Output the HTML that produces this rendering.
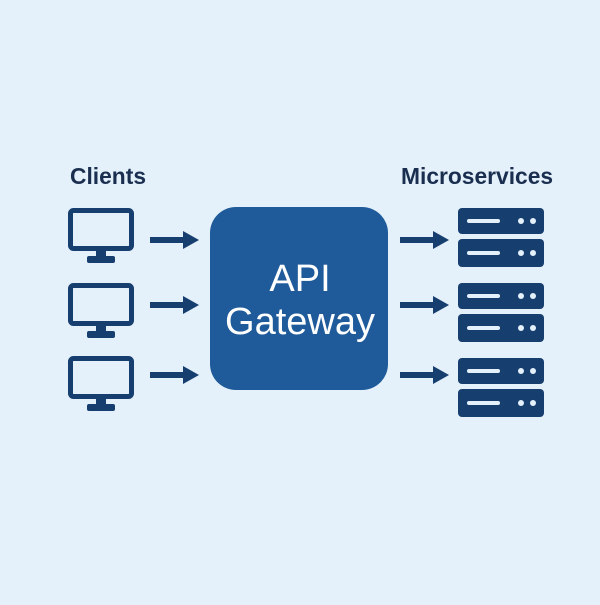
<!DOCTYPE html>
<html><head><style>
body{margin:0;background:#e4f1fb;}
</style></head><body>
<svg width="600" height="600" viewBox="0 0 600 600" xmlns="http://www.w3.org/2000/svg">
<rect width="600" height="600" fill="#e4f1fb"/>
<text x="70" y="184" font-family="Liberation Sans, sans-serif" font-size="22.8" font-weight="bold" fill="#1a2e4f">Clients</text>
<text x="401" y="184" font-family="Liberation Sans, sans-serif" font-size="22.8" font-weight="bold" fill="#1a2e4f">Microservices</text>
<rect x="210" y="207" width="178" height="183" rx="26" fill="#1f5b9a"/>
<text x="300" y="291" text-anchor="middle" font-family="Liberation Sans, sans-serif" font-size="38" fill="#fff">API</text>
<text x="300" y="334" text-anchor="middle" font-family="Liberation Sans, sans-serif" font-size="38" fill="#fff">Gateway</text>
<g fill="#163e6e">
<g id="mon">
<rect x="70.5" y="210.5" width="61" height="38" rx="3" fill="none" stroke="#163e6e" stroke-width="5"/>
<rect x="96" y="250" width="10" height="7"/>
<rect x="87" y="256" width="28" height="7" rx="2"/>
</g>
<use href="#mon" y="75"/>
<use href="#mon" y="148"/>
<g id="arr">
<rect x="150" y="237" width="35" height="6"/>
<polygon points="183,231 199,240 183,249"/>
</g>
<use href="#arr" y="65"/>
<use href="#arr" y="135"/>
<use href="#arr" x="250"/>
<use href="#arr" x="250" y="65"/>
<use href="#arr" x="250" y="135"/>
<g id="srv">
<rect x="458" y="208" width="86" height="26" rx="4"/>
<rect x="458" y="239" width="86" height="28" rx="4"/>
<rect x="467" y="219" width="33" height="4" rx="2" fill="#e4f1fb"/>
<rect x="467" y="251" width="33" height="4" rx="2" fill="#e4f1fb"/>
<circle cx="521" cy="221" r="3" fill="#e4f1fb"/><circle cx="533" cy="221" r="3" fill="#e4f1fb"/>
<circle cx="521" cy="253" r="3" fill="#e4f1fb"/><circle cx="533" cy="253" r="3" fill="#e4f1fb"/>
</g>
<use href="#srv" y="75"/>
<use href="#srv" y="150"/>
</g>
</svg>
</body></html>
